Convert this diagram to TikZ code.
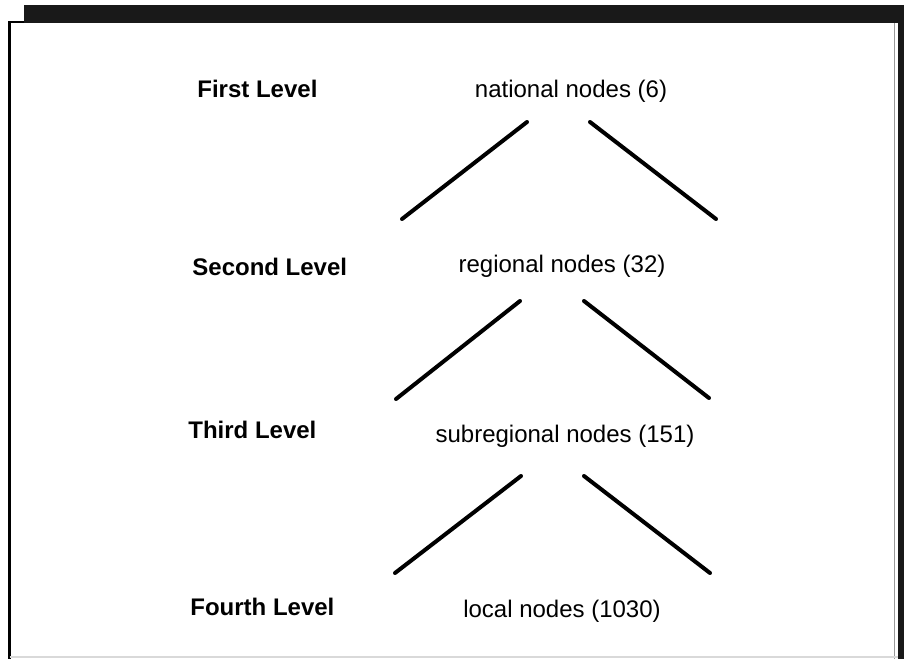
\documentclass[tikz,border=0pt]{standalone}
\usepackage{fontspec}
\setmainfont{Liberation Sans}
\begin{document}
\begin{tikzpicture}[x=0.5pt,y=-0.5pt,
    levelname/.style={anchor=base west,inner sep=0pt,font=\fontsize{12}{14}\selectfont\bfseries},
    nodecount/.style={anchor=base,inner sep=0pt,font=\fontsize{12}{14}\selectfont},
    branch/.style={line width=2pt,line cap=round}]
      \useasboundingbox (0,0) rectangle (904,659);
      % frame
      \fill[black!90] (24,5) rectangle (904,23);
      \fill[black!90] (898,5) rectangle (904,659);
      \draw[line width=1.3pt] (24,22) -- (9.5,22) -- (9.5,659);
      \draw[black!40,line width=0.5pt] (894,23) -- (894,659);
      \draw[black!15,line width=0.8pt] (9.5,657) -- (898,657);

      \def \Levels {
        1/First/197/97/national nodes (6)/571/97,
        2/Second/192/275/regional nodes (32)/562/272,
        3/Third/188/438/subregional nodes (151)/565/442,
        4/Fourth/190/615/local nodes (1030)/562/617}
      \def \Branches {
        1/527/122/402/219/590/122/716/219,
        2/520/301/396/399/584/301/709/398,
        3/521/476/395/573/584/476/710/573}

      \foreach \id / \name / \x / \y / \txt / \tx / \ty in \Levels {
        \node[levelname] (lvl\id) at (\x, \y) {\name{} Level};
        \node[nodecount] (cnt\id) at (\tx, \ty) {\txt};
      }
      \foreach \id / \ax / \ay / \bx / \by / \px / \py / \qx / \qy in \Branches {
        \coordinate (lt\id) at (\ax, \ay);
        \coordinate (lb\id) at (\bx, \by);
        \coordinate (rt\id) at (\px, \py);
        \coordinate (rb\id) at (\qx, \qy);
        \draw[branch] (lt\id) -- (lb\id);
        \draw[branch] (rt\id) -- (rb\id);
      }
    \end{tikzpicture}
\end{document}
